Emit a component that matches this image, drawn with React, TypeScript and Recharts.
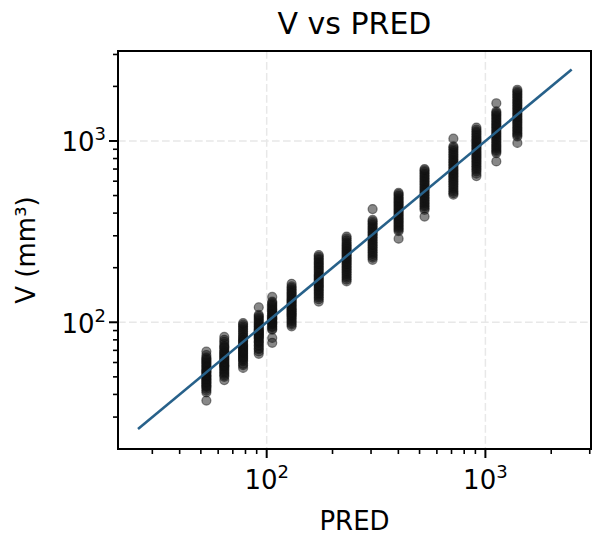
import { CartesianGrid, ReferenceArea, Scatter, ScatterChart, XAxis, YAxis } from "recharts";

const FONT = "'DejaVu Sans', 'Liberation Sans', sans-serif";
const LINE_COLOR = "#27618a";

const predLevels = [53, 64, 78, 92, 106, 130, 173, 232, 305, 401, 527, 714, 910, 1122, 1400];

const v053 = [37, 41, 42, 43, 44, 44.5, 45, 46, 46.5, 47, 48, 48.5, 49, 50, 50.5, 51, 52, 53, 53.5, 54, 55, 56, 57, 58, 59, 60, 61, 62, 63, 64, 66, 69];
const v064 = [48, 50, 51, 52, 53, 54, 55, 56, 57, 57.5, 58, 59, 60, 61, 62, 63, 64, 65, 66, 67, 68, 69, 70, 72, 73, 74, 76, 78, 80, 83];
const v078 = [56, 58, 59, 61, 62, 63, 64, 65, 66, 67, 68, 69, 70, 71, 72, 73, 74, 75, 76, 78, 79, 80, 82, 83, 85, 87, 89, 91, 93, 95, 97, 99];
const v092 = [67, 69, 71, 72, 74, 75, 77, 78, 79, 81, 82, 83, 84, 85, 86, 87, 88, 89, 90, 91, 92, 94, 95, 97, 98, 100, 102, 104, 106, 108, 110, 121];
const v106 = [77, 82, 91, 92, 94, 95, 97, 98, 99, 100, 101, 103, 104, 105, 106, 107, 109, 110, 112, 113, 115, 117, 118, 120, 122, 124, 126, 128, 130, 138];
const v130 = [95, 97, 99, 101, 103, 105, 107, 109, 110, 112, 113, 115, 117, 118, 120, 122, 124, 126, 128, 130, 132, 134, 136, 139, 141, 144, 146, 149, 152, 155, 158, 163];
const v173 = [130, 134, 137, 140, 143, 146, 149, 152, 155, 158, 160, 163, 166, 169, 172, 175, 178, 181, 184, 188, 192, 196, 200, 204, 208, 212, 216, 221, 225, 230, 235];
const v232 = [168, 172, 176, 180, 184, 188, 192, 196, 200, 204, 208, 212, 216, 220, 224, 228, 232, 237, 241, 246, 250, 255, 260, 265, 270, 276, 283, 290, 297];
const v305 = [221, 227, 232, 238, 243, 248, 254, 259, 265, 270, 276, 282, 288, 294, 300, 306, 312, 318, 325, 331, 338, 345, 352, 360, 367, 421];
const v401 = [289, 318, 324, 330, 336, 342, 348, 355, 361, 368, 374, 381, 388, 395, 402, 410, 417, 425, 432, 440, 448, 456, 464, 472, 481, 490, 500, 510, 518];
const v527 = [383, 417, 426, 435, 443, 452, 461, 470, 480, 490, 500, 510, 520, 530, 541, 552, 563, 575, 586, 598, 610, 622, 635, 648, 661, 675, 688, 700];
const v714 = [505, 515, 525, 537, 550, 562, 575, 587, 600, 612, 625, 637, 650, 662, 675, 687, 700, 715, 730, 745, 760, 775, 790, 807, 825, 842, 860, 880, 900, 918, 935, 1030];
const v910 = [640, 660, 680, 695, 710, 725, 740, 755, 770, 785, 800, 815, 830, 845, 860, 877, 895, 912, 930, 947, 965, 982, 1000, 1020, 1040, 1062, 1085, 1107, 1130, 1157, 1185];
const v1122 = [771, 858, 874, 890, 907, 925, 942, 960, 980, 1000, 1020, 1040, 1060, 1080, 1100, 1120, 1142, 1165, 1187, 1210, 1232, 1255, 1280, 1305, 1330, 1355, 1380, 1405, 1430, 1457, 1615];
const v1400 = [976, 1059, 1080, 1100, 1122, 1145, 1167, 1190, 1215, 1240, 1265, 1290, 1315, 1340, 1367, 1395, 1422, 1450, 1480, 1510, 1540, 1570, 1602, 1635, 1667, 1700, 1735, 1770, 1805, 1840, 1880, 1917];

const observed = [v053, v064, v078, v092, v106, v130, v173, v232, v305, v401, v527, v714, v910, v1122, v1400];

const identityEnds = [25.8, 2480];

const xDomain = [20.9, 3040];
const yDomain = [20.0, 3135];
const axisTicks = [30, 40, 50, 60, 70, 80, 90, 100, 200, 300, 400, 500, 600, 700, 800, 900, 1000, 2000, 3000];
const majorTicks = [100, 1000];

const points = predLevels.flatMap((pred, i) => observed[i].map((v) => ({ pred, v })));
const diagonal = identityEnds.map((d) => ({ pred: d, v: d }));

function Pow10({ value, x, y, anchor }: { value: number; x: number; y: number; anchor: "middle" | "end" }) {
  const exp = Math.round(Math.log10(value));
  return (
    <text x={x} y={y} textAnchor={anchor} fontFamily={FONT} fontSize={26} fill="#000">
      10
      <tspan dy={-11} fontSize={18}>
        {exp}
      </tspan>
    </text>
  );
}

function XTick(props: any) {
  const { x, y, payload } = props;
  const major = majorTicks.includes(payload.value);
  return (
    <g>
      <line x1={x} x2={x} y1={y} y2={y + (major ? 9 : 5)} stroke="#000" strokeWidth={major ? 2 : 1.6} />
      {major && <Pow10 value={payload.value} x={x} y={y + 40} anchor="middle" />}
    </g>
  );
}

function YTick(props: any) {
  const { x, y, payload } = props;
  const major = majorTicks.includes(payload.value);
  return (
    <g>
      <line x1={x - (major ? 9 : 5)} x2={x} y1={y} y2={y} stroke="#000" strokeWidth={major ? 2 : 1.6} />
      {major && <Pow10 value={payload.value} x={x - 12} y={y + 10.5} anchor="end" />}
    </g>
  );
}

const Dot = (props: any) => (
  <circle
    cx={props.cx}
    cy={props.cy}
    r={4.5}
    fill="#111"
    fillOpacity={0.5}
    stroke="#111"
    strokeOpacity={0.5}
    strokeWidth={1.2}
  />
);

export default function App() {
  return (
    <div style={{ position: "absolute", left: 0, top: 0, width: 592, height: 539, background: "#fff" }}>
      <ScatterChart width={592} height={539} margin={{ top: 51, right: 1, bottom: 0, left: 0 }}>
        <CartesianGrid
          horizontalValues={majorTicks}
          verticalValues={majorTicks}
          stroke="#e8e8e8"
          strokeWidth={1.5}
          strokeDasharray="7.7 3.3"
        />
        <XAxis
          type="number"
          dataKey="pred"
          scale="log"
          domain={xDomain}
          allowDataOverflow
          ticks={axisTicks}
          interval={0}
          height={90}
          axisLine={false}
          tickLine={false}
          tickSize={0}
          tickMargin={0}
          tick={XTick}
        />
        <YAxis
          type="number"
          dataKey="v"
          scale="log"
          domain={yDomain}
          allowDataOverflow
          ticks={axisTicks}
          interval={0}
          width={118}
          axisLine={false}
          tickLine={false}
          tickSize={0}
          tickMargin={0}
          tick={YTick}
        />
        <Scatter data={points} shape={Dot} isAnimationActive={false} />
        <Scatter
          data={diagonal}
          line={{ stroke: LINE_COLOR, strokeWidth: 2.6 }}
          shape={() => <g />}
          isAnimationActive={false}
        />
        <ReferenceArea
          x1={xDomain[0]}
          x2={xDomain[1]}
          y1={yDomain[0]}
          y2={yDomain[1]}
          fill="none"
          fillOpacity={0}
          stroke="#000"
          strokeWidth={2}
        />
      </ScatterChart>
      <svg
        width={592}
        height={539}
        style={{ position: "absolute", left: 0, top: 0, pointerEvents: "none" }}
      >
        <text x={354.5} y={34} textAnchor="middle" fontFamily={FONT} fontSize={30} fill="#000">
          V vs PRED
        </text>
        <text x={354.5} y={530} textAnchor="middle" fontFamily={FONT} fontSize={26} fill="#000">
          PRED
        </text>
        <text
          x={35}
          y={250}
          textAnchor="middle"
          fontFamily={FONT}
          fontSize={26}
          fill="#000"
          transform="rotate(-90 35 250)"
        >
          V (mm³)
        </text>
      </svg>
    </div>
  );
}
